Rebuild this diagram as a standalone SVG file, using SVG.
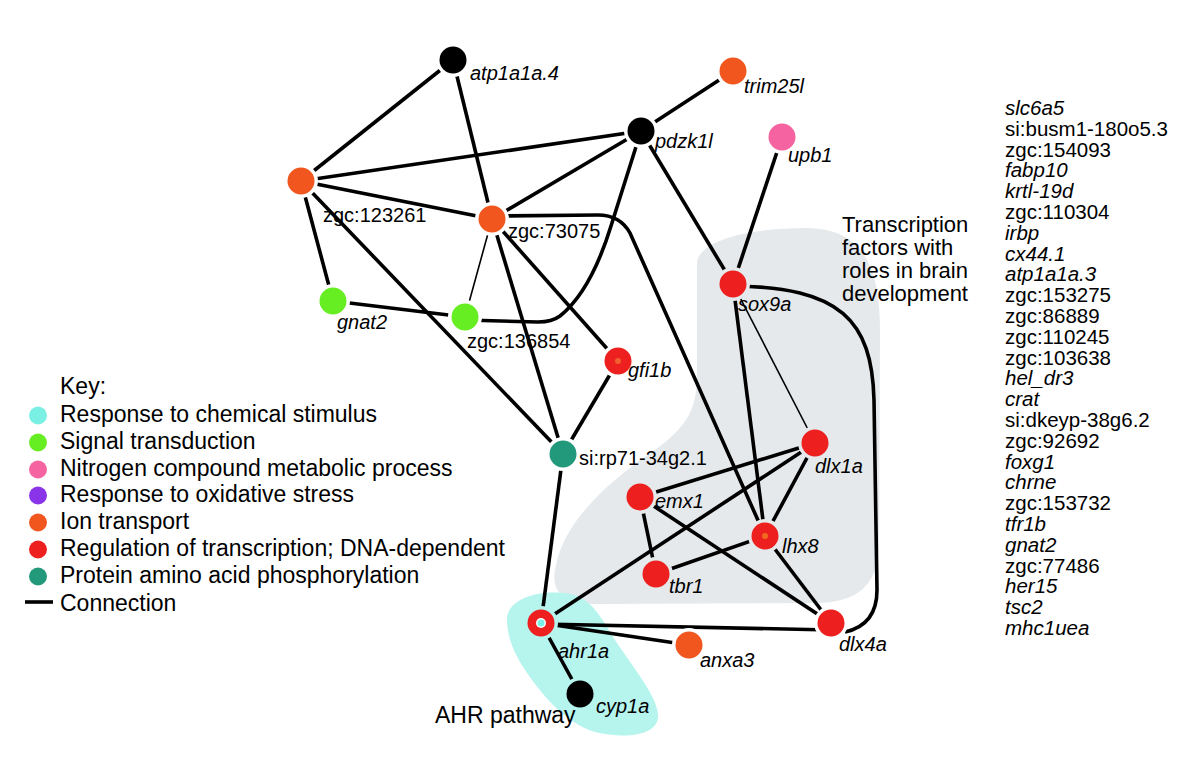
<svg xmlns="http://www.w3.org/2000/svg" width="1200" height="770" viewBox="0 0 1200 770">
<style>
text{font-family:"Liberation Sans",Arial,Helvetica,sans-serif;fill:#000}
.lb{font-size:20px}
.it{font-style:italic}
.big{font-size:23px}
.tf{font-size:22px}
.ls{font-size:20.5px}
.e{fill:none;stroke:#000;stroke-width:3.6}
.t{stroke-width:1.6}
.or{fill:#f0561e}.rd{fill:#ee1f1f}.gr{fill:#66ee22}.pk{fill:#f564a0}.pu{fill:#8a34ea}.tl{fill:#22997a}.cy{fill:#7af0e4}.bk{fill:#000}
</style>
<defs>
<mask id="gap" maskUnits="userSpaceOnUse" x="0" y="0" width="1200" height="770">
<rect width="1200" height="770" fill="#fff"/>
<g fill="#000">
<circle cx="453" cy="60" r="17"/><circle cx="733" cy="71" r="17"/><circle cx="641" cy="131" r="17"/><circle cx="782" cy="137" r="17"/>
<circle cx="301" cy="181" r="17"/><circle cx="492" cy="219" r="17"/><circle cx="333" cy="301" r="17"/><circle cx="465" cy="317" r="17"/>
<circle cx="618" cy="361" r="17"/><circle cx="563" cy="454" r="17"/><circle cx="733" cy="284" r="17"/><circle cx="815" cy="443" r="17"/>
<circle cx="640" cy="497" r="17"/><circle cx="765" cy="536" r="17"/><circle cx="656" cy="574" r="17"/><circle cx="831" cy="623" r="17"/>
<circle cx="541" cy="623" r="17"/><circle cx="689" cy="645" r="17"/><circle cx="580" cy="694" r="17"/>
</g>
</mask>
</defs>
<rect width="1200" height="770" fill="#fff"/>
<g id="regions">
<path d="M697,262 C700,240 750,228 805,228 C860,228 880,262 880,330 L879,545 C878,585 858,603 815,603 L595,604 C560,604 550,590 556,565 C565,520 610,480 655,450 C690,425 697,405 697,375 Z" fill="#e5e9eb"/>
<path d="M507,622 C505,600 535,590 565,593 C590,596 600,615 615,640 C635,670 660,700 658,718 C655,738 620,738 595,732 C570,725 545,700 525,670 C515,655 508,640 507,622 Z" fill="#b6f4ee"/>
</g>
<g id="connectors" mask="url(#gap)">
<path class="e" d="M453,60 L301,181"/>
<path class="e" d="M453,60 L492,219"/>
<path class="e" d="M301,181 L641,131"/>
<path class="e" d="M301,181 L492,219"/>
<path class="e" d="M301,181 L333,301"/>
<path class="e" d="M301,181 L563,454"/>
<path class="e" d="M641,131 L733,71"/>
<path class="e" d="M641,131 L492,219"/>
<path class="e" d="M641,131 L611,226 C598,268 580,300 560,316 Q552,322 538,322 L465,320"/>
<path class="e" d="M641,131 L733,284"/>
<path class="e t" d="M492,219 L465,317"/>
<path class="e" d="M492,219 L618,361"/>
<path class="e" d="M492,219 L563,454"/>
<path class="e" d="M492,216 L598,215 Q620,215 630,233 L765,536"/>
<path class="e" d="M333,301 L465,317"/>
<path class="e" d="M618,361 L563,454"/>
<path class="e" d="M563,454 L541,623"/>
<path class="e" d="M782,137 L733,284"/>
<path class="e" d="M733,284 L765,536"/>
<path class="e t" d="M733,284 L815,443"/>
<path class="e" d="M733,286 C840,287 872,320 874,400 L877,590 Q877,625 845,632"/>
<path class="e" d="M815,443 L640,497"/>
<path class="e" d="M815,443 L541,623"/>
<path class="e" d="M815,443 L765,536"/>
<path class="e" d="M640,497 L656,574"/>
<path class="e" d="M640,497 L831,623"/>
<path class="e" d="M765,536 L656,574"/>
<path class="e" d="M765,536 L831,623"/>
<path class="e" d="M541,624 L831,630"/>
<path class="e" d="M541,623 L689,645"/>
<path class="e" d="M541,623 L580,694"/>
</g>
<g id="n-atp1a1a4"><circle class="bk" cx="453" cy="60" r="13.5"/><text class="lb it" x="470" y="80">atp1a1a.4</text></g>
<g id="n-trim25l"><circle class="or" cx="733" cy="71" r="13.5"/><text class="lb it" x="744" y="93">trim25l</text></g>
<g id="n-pdzk1l"><circle class="bk" cx="641" cy="131" r="13.5"/><text class="lb it" x="655" y="148">pdzk1l</text></g>
<g id="n-upb1"><circle class="pk" cx="782" cy="137" r="13.5"/><text class="lb it" x="788" y="162">upb1</text></g>
<g id="n-zgc123261"><circle class="or" cx="301" cy="181" r="13.5"/><text class="lb" x="323" y="222">zgc:123261</text></g>
<g id="n-zgc73075"><circle class="or" cx="492" cy="219" r="13.5"/><text class="lb" x="508" y="238">zgc:73075</text></g>
<g id="n-gnat2"><circle class="gr" cx="333" cy="301" r="13.5"/><text class="lb it" x="337" y="329">gnat2</text></g>
<g id="n-zgc136854"><circle class="gr" cx="465" cy="317" r="13.5"/><text class="lb" x="467" y="348">zgc:136854</text></g>
<g id="n-gfi1b"><circle class="rd" cx="618" cy="361" r="13.5"/><circle fill="#f06030" cx="618" cy="361" r="3"/><text class="lb it" x="628" y="377">gfi1b</text></g>
<g id="n-sirp71"><circle class="tl" cx="563" cy="454" r="13.5"/><text class="lb" x="579" y="465">si:rp71-34g2.1</text></g>
<g id="n-sox9a"><circle class="rd" cx="733" cy="284" r="13.5"/><text class="lb it" x="738" y="311">sox9a</text></g>
<g id="n-dlx1a"><circle class="rd" cx="815" cy="443" r="13.5"/><text class="lb it" x="815" y="473">dlx1a</text></g>
<g id="n-emx1"><circle class="rd" cx="640" cy="497" r="13.5"/><text class="lb it" x="655" y="508">emx1</text></g>
<g id="n-lhx8"><circle class="rd" cx="765" cy="536" r="13.5"/><circle fill="#f06a20" cx="765" cy="536" r="3"/><text class="lb it" x="782" y="553">lhx8</text></g>
<g id="n-tbr1"><circle class="rd" cx="656" cy="574" r="13.5"/><text class="lb it" x="669" y="593">tbr1</text></g>
<g id="n-dlx4a"><circle class="rd" cx="831" cy="623" r="13.5"/><text class="lb it" x="839" y="651">dlx4a</text></g>
<g id="n-ahr1a"><circle class="rd" cx="541" cy="623" r="13.5"/><circle fill="#fff" cx="541" cy="623" r="5"/><circle class="cy" cx="541" cy="623" r="3.5"/><text class="lb it" x="558" y="658">ahr1a</text></g>
<g id="n-anxa3"><circle class="or" cx="689" cy="645" r="13.5"/><text class="lb it" x="700" y="667">anxa3</text></g>
<g id="n-cyp1a"><circle class="bk" cx="580" cy="694" r="13.5"/><text class="lb it" x="596" y="713">cyp1a</text></g>
<g id="annotations">
<text class="tf" x="842" y="232">Transcription</text>
<text class="tf" x="842" y="255">factors with</text>
<text class="tf" x="842" y="278">roles in brain</text>
<text class="tf" x="842" y="301">development</text>
<text class="big" x="435" y="723">AHR pathway</text>
</g>
<g id="key">
<text class="big" x="60" y="394">Key:</text>
<circle class="cy" cx="38" cy="415.5" r="9"/><text class="big" x="60" y="422">Response to chemical stimulus</text>
<circle class="gr" cx="38" cy="442.5" r="9"/><text class="big" x="60" y="449">Signal transduction</text>
<circle class="pk" cx="38" cy="469.5" r="9"/><text class="big" x="60" y="476">Nitrogen compound metabolic process</text>
<circle class="pu" cx="38" cy="495.5" r="9"/><text class="big" x="60" y="502">Response to oxidative stress</text>
<circle class="or" cx="38" cy="522.5" r="9"/><text class="big" x="60" y="529">Ion transport</text>
<circle class="rd" cx="38" cy="549.5" r="9"/><text class="big" x="60" y="556">Regulation of transcription; DNA-dependent</text>
<circle class="tl" cx="38" cy="576.5" r="9"/><text class="big" x="60" y="583">Protein amino acid phosphorylation</text>
<path d="M25,602 L53,602" stroke="#000" stroke-width="3.6"/><text class="big" x="60" y="611">Connection</text>
</g>
<g id="gene-list">
<text class="ls it" x="1005" y="115">slc6a5</text>
<text class="ls" x="1005" y="135.8">si:busm1-180o5.3</text>
<text class="ls" x="1005" y="156.6">zgc:154093</text>
<text class="ls it" x="1005" y="177.4">fabp10</text>
<text class="ls it" x="1005" y="198.2">krtl-19d</text>
<text class="ls" x="1005" y="219">zgc:110304</text>
<text class="ls it" x="1005" y="239.8">irbp</text>
<text class="ls it" x="1005" y="260.6">cx44.1</text>
<text class="ls it" x="1005" y="281.4">atp1a1a.3</text>
<text class="ls" x="1005" y="302.2">zgc:153275</text>
<text class="ls" x="1005" y="323">zgc:86889</text>
<text class="ls" x="1005" y="343.8">zgc:110245</text>
<text class="ls" x="1005" y="364.6">zgc:103638</text>
<text class="ls it" x="1005" y="385.4">hel_dr3</text>
<text class="ls it" x="1005" y="406.2">crat</text>
<text class="ls" x="1005" y="427">si:dkeyp-38g6.2</text>
<text class="ls" x="1005" y="447.8">zgc:92692</text>
<text class="ls it" x="1005" y="468.6">foxg1</text>
<text class="ls it" x="1005" y="489.4">chrne</text>
<text class="ls" x="1005" y="510.2">zgc:153732</text>
<text class="ls it" x="1005" y="531">tfr1b</text>
<text class="ls it" x="1005" y="551.8">gnat2</text>
<text class="ls" x="1005" y="572.6">zgc:77486</text>
<text class="ls it" x="1005" y="593.4">her15</text>
<text class="ls it" x="1005" y="614.2">tsc2</text>
<text class="ls it" x="1005" y="635">mhc1uea</text>
</g>
</svg>
